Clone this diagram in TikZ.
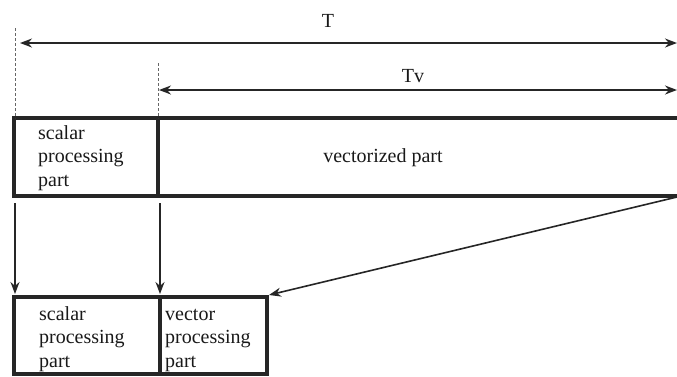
\documentclass[tikz,border=0pt]{standalone}
\usepackage{fontspec}
\setmainfont{Liberation Serif}
\usetikzlibrary{arrows.meta}
\begin{document}
\begin{tikzpicture}[x=1pt,y=-1pt,
  frame/.style={line width=3.2pt,draw=black!85},
  txt/.style={font=\fontsize{20}{23.5}\selectfont,text=black!90,inner sep=0pt},
  conn/.style={line width=1.6pt,draw=black!85,-{Stealth[length=12pt,width=9pt]}},
  dim/.style={line width=1.6pt,draw=black!85,{Stealth[length=12pt,width=9pt]}-{Stealth[length=12pt,width=9pt]}},
  guide/.style={line width=1pt,draw=black!60,dash pattern=on 3pt off 2pt}]
\useasboundingbox (0,0) rectangle (677,376);

% upper bar: scalar part and vectorized part (open to the right)
\coordinate (uTL) at (14,118);
\coordinate (uTM) at (158,118);
\coordinate (uTR) at (680,118);
\coordinate (uBL) at (14,196);
\coordinate (uBM) at (158,196);
\coordinate (uBR) at (680,196);
\draw[frame] (uTR) -- (uTL) -- (uBL) -- (uBR);
\draw[frame] (uTM) -- (uBM);

% lower bar: scalar part and vector part
\coordinate (lTL) at (14,297);
\coordinate (lTM) at (160,297);
\coordinate (lTR) at (267,297);
\coordinate (lBL) at (14,374);
\coordinate (lBM) at (160,374);
\coordinate (lBR) at (267,374);
\draw[frame] (lTL) rectangle (lBR);
\draw[frame] (lTM) -- (lBM);

% labels inside the bars (base anchor sits on the last line)
\node[txt,anchor=base west,align=left] (sUp) at (38,186) {scalar\\processing\\part};
\node[txt,anchor=base] (vecUp) at (383,162) {vectorized part};
\node[txt,anchor=base west,align=left] (sLo) at (39,367) {scalar\\processing\\part};
\node[txt,anchor=base west,align=left] (vLo) at (165,367) {vector\\processing\\part};

% time spans
\coordinate (gA) at (15,28);
\coordinate (gA2) at (15,118);
\coordinate (gB) at (158,63);
\coordinate (gB2) at (158,118);
\draw[guide] (gA) -- (gA2);
\draw[guide] (gB) -- (gB2);

\coordinate (tL) at (20,43);
\coordinate (tR) at (677,43);
\coordinate (tvL) at (159,90);
\coordinate (tvR) at (677,90);
\draw[dim] (tL) -- (tR);
\draw[dim] (tvL) -- (tvR);
\node[txt,anchor=base] (T) at (328,27) {T};
\node[txt,anchor=base] (Tv) at (413,82) {Tv};

% mapping from upper to lower bar
\coordinate (a1) at (15,203);
\coordinate (a1e) at (15,294);
\coordinate (a2) at (160,203);
\coordinate (a2e) at (160,294);
\coordinate (a3) at (677,197);
\coordinate (a3e) at (269,295);
\draw[conn] (a1) -- (a1e);
\draw[conn] (a2) -- (a2e);
\draw[conn] (a3) -- (a3e);
\end{tikzpicture}
\end{document}
